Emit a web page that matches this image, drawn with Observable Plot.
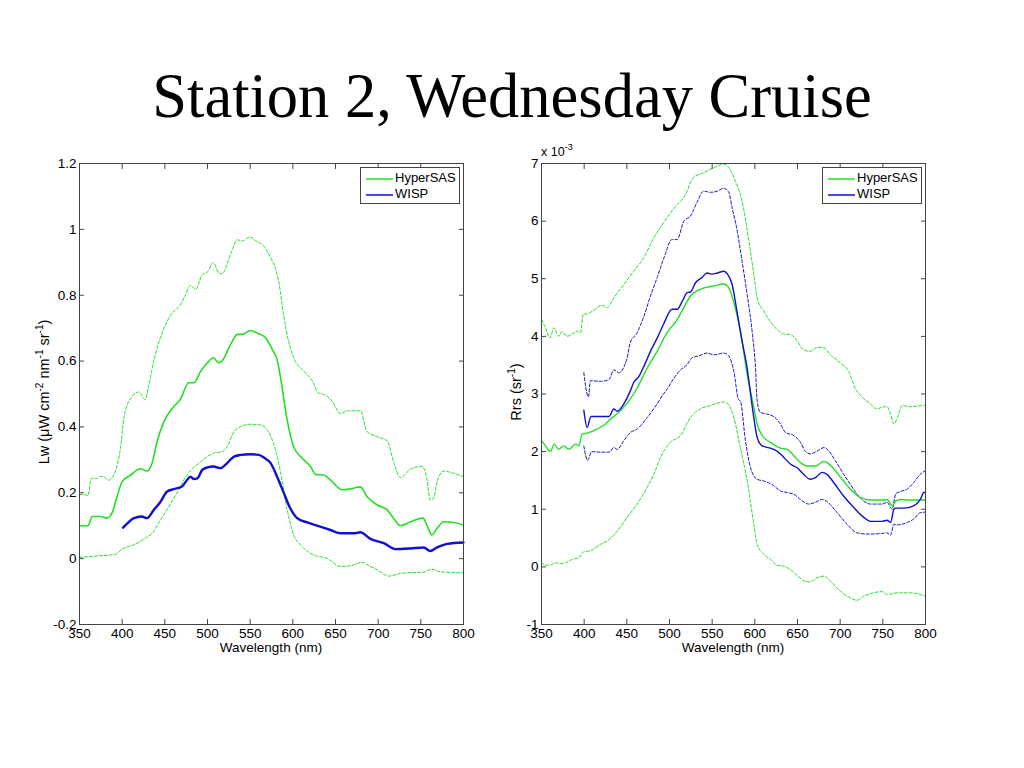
<!DOCTYPE html>
<html>
<head>
<meta charset="utf-8">
<script src="https://cdn.jsdelivr.net/npm/d3@7"></script>
<script src="https://cdn.jsdelivr.net/npm/@observablehq/plot@0.6"></script>
<style>
  html, body { margin: 0; padding: 0; background: #fff; }
  body { width: 1024px; height: 768px; position: relative; overflow: hidden; font-family: "Liberation Sans", Arial, sans-serif; }
  #title { position: absolute; left: 0; width: 1024px; top: 61px; text-align: center; font-family: "Liberation Serif", "Times New Roman", serif; font-size: 62.5px; line-height: 70px; color: #000; }
  .plot { position: absolute; top: 140px; }
  .xlabel { position: absolute; font-size: 13.5px; color: #000; text-align: center; width: 200px; }
  .ylabel { position: absolute; font-size: 14.5px; color: #000; white-space: nowrap; transform: rotate(-90deg); transform-origin: center center; text-align: center; }
  .ylabel sup { font-size: 10px; vertical-align: 6px; line-height: 0; }
  .legend { position: absolute; background: #fff; border: 1px solid #444; font-size: 13px; color: #000; padding: 0; }
  .legend .row { position: absolute; left: 0; height: 15px; line-height: 15px; white-space: nowrap; }
  .legend svg { vertical-align: middle; margin-left: 5px; margin-right: 2px; }
  #exp { position: absolute; left: 541px; top: 145px; font-size: 12.5px; color: #000; }
  #exp sup { font-size: 9px; vertical-align: 6px; line-height: 0; }
</style>
</head>
<body>
<div id="title">Station 2, Wednesday Cruise</div>
<div id="left" class="plot" style="left:0px"></div>
<div id="right" class="plot" style="left:480px"></div>
<div class="xlabel" style="left:171px; top:640px">Wavelength (nm)</div>
<div class="xlabel" style="left:633px; top:640px">Wavelength (nm)</div>
<div class="ylabel" style="left:-51px; top:384px; width:190px">Lw (μW cm<sup>-2</sup> nm<sup>-1</sup> sr<sup>-1</sup>)</div>
<div class="ylabel" style="left:466px; top:384px; width:100px">Rrs (sr<sup>-1</sup>)</div>
<div id="exp">x 10<sup>-3</sup></div>
<div class="legend" style="left:360px; top:167px; width:98px; height:35px">
  <div class="row" style="top:2px"><svg width="27" height="4"><line x1="0" x2="27" y1="2" y2="2" stroke="#22e022" stroke-width="1.5"/></svg>HyperSAS</div>
  <div class="row" style="top:18px"><svg width="27" height="4"><line x1="0" x2="27" y1="2" y2="2" stroke="#1010d0" stroke-width="1.5"/></svg>WISP</div>
</div>
<div class="legend" style="left:822px; top:167px; width:98px; height:35px">
  <div class="row" style="top:2px"><svg width="27" height="4"><line x1="0" x2="27" y1="2" y2="2" stroke="#22e022" stroke-width="1.5"/></svg>HyperSAS</div>
  <div class="row" style="top:18px"><svg width="27" height="4"><line x1="0" x2="27" y1="2" y2="2" stroke="#1010d0" stroke-width="1.5"/></svg>WISP</div>
</div>
<script>
// ---------- Tick values ----------
const xTicks = [350, 400, 450, 500, 550, 600, 650, 700, 750, 800];
const lwTicks = [-0.2, 0, 0.2, 0.4, 0.6, 0.8, 1, 1.2];
const rrsTicks = [-1, 0, 1, 2, 3, 4, 5, 6, 7];

// ---------- Left panel: Lw (wavelength, value) ----------
const lwHyperUpper = [[350,0.195],[355,0.195],[360,0.192],[364,0.244],[370,0.244],[375,0.25],[378.5,0.249],[384,0.238],[392,0.266],[398,0.335],[402,0.427],[410,0.487],[419.5,0.506],[427,0.483],[431,0.524],[437,0.6],[449,0.70],[457,0.74],[468,0.77],[474,0.80],[480,0.83],[486,0.818],[494,0.863],[500,0.871],[507,0.899],[513,0.868],[517,0.865],[527,0.924],[535,0.968],[541,0.965],[550,0.977],[556,0.966],[566,0.949],[574,0.914],[580,0.878],[584,0.833],[589,0.742],[595,0.66],[601,0.61],[613,0.569],[623,0.539],[630,0.503],[638,0.497],[646,0.478],[656,0.44],[663.7,0.449],[679,0.449],[687,0.386],[699,0.37],[710.5,0.358],[718,0.295],[726,0.246],[738,0.272],[751.5,0.28],[757,0.244],[761,0.178],[765,0.183],[769,0.234],[777,0.266],[788.7,0.259],[800,0.249]];
const lwHyperMean = [[350,0.1],[360,0.1],[365,0.128],[375,0.128],[382,0.123],[388,0.138],[394,0.188],[400,0.234],[410,0.254],[421.5,0.273],[429,0.266],[435,0.29],[441,0.356],[449,0.416],[460.5,0.462],[468,0.483],[478,0.534],[484,0.534],[492,0.569],[500,0.595],[507,0.61],[513,0.595],[517,0.6],[527,0.65],[535,0.681],[541,0.681],[550,0.693],[560,0.683],[568,0.671],[576,0.635],[582,0.6],[587.5,0.519],[591,0.457],[597,0.376],[601,0.34],[609,0.31],[620.7,0.28],[626.6,0.256],[636,0.254],[644,0.239],[658,0.209],[671.5,0.214],[679,0.218],[687,0.188],[699,0.163],[710.5,0.148],[718,0.123],[726,0.1],[738,0.112],[752.7,0.123],[757,0.102],[763,0.072],[769,0.092],[777,0.112],[788.7,0.11],[800,0.102]];
const lwHyperLower = [[350,0.004],[375,0.009],[392,0.013],[400,0.029],[413.7,0.042],[427,0.062],[435,0.077],[445,0.118],[460.5,0.183],[476,0.254],[492,0.295],[507,0.32],[517,0.325],[523,0.34],[531,0.386],[539,0.401],[548.4,0.408],[562,0.406],[570,0.391],[578,0.345],[585.5,0.264],[593,0.153],[601,0.072],[609,0.042],[624.6,0.011],[640,0.001],[656,-0.024],[671.5,-0.019],[681,-0.011],[691,-0.024],[699,-0.034],[712.5,-0.053],[726,-0.045],[742,-0.042],[751.5,-0.042],[763,-0.032],[773,-0.04],[800,-0.043]];
const lwWisp = [[401,0.094],[406,0.107],[413.7,0.123],[423,0.128],[429,0.123],[437,0.148],[445,0.173],[452.7,0.204],[460.5,0.211],[470,0.219],[476,0.239],[480,0.249],[484,0.242],[488,0.244],[494,0.27],[500,0.277],[507,0.28],[515,0.275],[523,0.29],[531,0.31],[539,0.315],[550,0.317],[560,0.315],[566,0.307],[574,0.29],[581.6,0.249],[589.5,0.199],[597,0.153],[605,0.123],[616.8,0.11],[632,0.097],[644,0.087],[656,0.077],[671.5,0.077],[679,0.08],[691,0.06],[706.6,0.047],[720,0.029],[738,0.031],[753.5,0.034],[761,0.023],[769,0.034],[781,0.045],[800,0.049]];

// ---------- Right panel: Rrs x 1e-3 (wavelength, value) ----------
const rrsHyperUpper = [[350,4.29],[354.7,4.15],[360,3.97],[364.5,4.15],[370,4.0],[374,4.08],[380,4.0],[388,4.06],[392.6,4.09],[395.7,4.06],[398.8,4.38],[403.5,4.39],[411,4.45],[421,4.54],[427,4.5],[434.8,4.67],[446.5,4.9],[458,5.13],[470,5.37],[481.6,5.71],[493,5.97],[509,6.29],[516.8,6.41],[528.5,6.76],[540,6.84],[552,6.93],[563.7,6.99],[569.5,6.93],[577,6.7],[585,6.35],[593,5.66],[598.8,5.08],[602.7,4.67],[610.5,4.44],[618,4.26],[626,4.12],[634,4.04],[642,4.03],[649.6,3.92],[657,3.77],[665,3.74],[673,3.81],[681,3.8],[688.7,3.68],[700,3.54],[710,3.39],[718,3.09],[724,2.97],[735.5,2.83],[743,2.74],[749,2.77],[755,2.78],[759,2.65],[763,2.48],[767,2.59],[772.6,2.8],[782,2.78],[800,2.81]];
const rrsHyperMean = [[350,2.19],[354.7,2.1],[360.5,2.0],[365,2.13],[370,2.04],[376,2.1],[382,2.04],[390,2.13],[393.7,2.1],[397.6,2.3],[403.5,2.32],[415,2.39],[425,2.48],[432.8,2.59],[442.6,2.71],[454,2.91],[462,3.1],[473.8,3.45],[485.5,3.74],[497,4.06],[509,4.29],[516.8,4.5],[524.6,4.7],[532,4.79],[540,4.84],[550,4.87],[563.7,4.91],[569.5,4.84],[577,4.5],[585,3.92],[591,3.34],[597,2.9],[598.8,2.77],[602.7,2.48],[608.6,2.28],[618.4,2.16],[630,2.06],[638,2.04],[645.7,1.93],[653.5,1.81],[661,1.75],[671,1.75],[681,1.83],[684.8,1.81],[692.6,1.7],[704,1.49],[712,1.35],[723.8,1.2],[735.5,1.16],[749,1.16],[755,1.17],[761,1.06],[765,1.14],[770.7,1.17],[782,1.16],[800,1.16]];
const rrsHyperLower = [[350,0.07],[354.7,0.03],[360.5,0.03],[366,0.07],[372,0.06],[378,0.07],[386,0.13],[393.7,0.16],[399.6,0.26],[407.4,0.28],[419,0.39],[427,0.45],[438.7,0.62],[450.4,0.86],[462,1.09],[473.8,1.38],[481.6,1.61],[489.5,1.9],[501,2.16],[513,2.28],[524.6,2.59],[536,2.74],[548,2.8],[563.7,2.86],[569.5,2.81],[575.4,2.59],[583,2.07],[591,1.49],[598.8,0.74],[602.7,0.39],[610.5,0.22],[618.4,0.13],[626,0.03],[634,0.01],[642,-0.05],[649.6,-0.15],[659,-0.25],[665,-0.26],[673,-0.19],[681,-0.16],[688.7,-0.25],[700,-0.42],[712,-0.54],[720,-0.58],[727.7,-0.51],[739,-0.45],[749,-0.43],[755,-0.48],[767,-0.45],[782,-0.45],[800,-0.51]];
const rrsWispUpper = [[399.6,3.37],[405,2.95],[407.4,3.23],[419,3.22],[429,3.25],[434.8,3.42],[440.6,3.37],[450.4,3.63],[454,3.89],[462,4.06],[470,4.35],[477.7,4.7],[485.5,5.02],[493,5.34],[503,5.68],[509,5.68],[516.8,6.0],[524.6,6.09],[532,6.32],[540,6.52],[548,6.5],[556,6.52],[563.7,6.57],[569.5,6.5],[573.4,6.23],[579,5.86],[585,5.31],[591,4.73],[597,4.06],[600.8,3.45],[602.7,2.88],[606.6,2.68],[614.5,2.65],[622,2.61],[630,2.48],[636,2.33],[645.7,2.28],[653.5,2.16],[659,2.01],[665,1.96],[673,2.01],[681,2.07],[686.7,2.01],[694.5,1.84],[704,1.61],[712,1.43],[720,1.26],[727.7,1.14],[735.5,1.09],[749,1.09],[755,1.12],[761,1.0],[765,1.26],[770.7,1.31],[778.5,1.35],[786,1.46],[794,1.61],[800,1.67]];
const rrsWispMean = [[399.6,2.72],[403.5,2.42],[408,2.61],[415,2.61],[429,2.61],[434.8,2.74],[438.7,2.7],[446.5,2.83],[454,3.05],[458,3.2],[464,3.3],[470,3.48],[477.7,3.74],[485.5,3.97],[493,4.21],[503,4.47],[509,4.47],[515,4.61],[520.7,4.76],[524.6,4.77],[530.5,4.93],[538,5.02],[544,5.1],[550,5.08],[556,5.1],[563.7,5.13],[568,5.08],[573.4,4.9],[579,4.44],[585,3.92],[591,3.45],[595,3.0],[598.8,2.59],[602.7,2.25],[608.6,2.1],[618.4,2.06],[626,2.01],[634,1.9],[642,1.78],[649.6,1.72],[657,1.61],[665,1.52],[671,1.55],[679,1.64],[684.8,1.6],[692.6,1.46],[704,1.23],[716,1.03],[727.7,0.86],[735.5,0.79],[749,0.79],[755,0.81],[759,0.77],[763,1.0],[765,1.02],[774.6,1.02],[786,1.06],[794,1.17],[798,1.29],[800,1.29]];
const rrsWispLower = [[399.6,2.1],[404,1.85],[409,2.0],[419,1.99],[429,1.99],[434.8,2.07],[438.7,2.04],[446.5,2.19],[454,2.33],[462,2.39],[473.8,2.59],[485.5,2.83],[493,3.0],[497,3.08],[505,3.27],[513,3.42],[520.7,3.51],[526.6,3.63],[534,3.66],[544,3.71],[552,3.68],[563.7,3.71],[569.5,3.66],[575.4,3.39],[581,2.9],[583,2.88],[589,2.19],[595,1.72],[602.7,1.52],[610.5,1.49],[620,1.43],[630,1.32],[638,1.29],[645.7,1.26],[653.5,1.17],[663,1.09],[671,1.12],[679,1.17],[684.8,1.13],[696.5,0.94],[708,0.74],[720,0.59],[731.6,0.57],[749,0.58],[755,0.59],[759,0.55],[763,0.74],[767,0.73],[778.5,0.77],[786,0.83],[794,0.94],[800,0.95]];

const GREEN = "#22e022";
const BLUE = "#1010d0";
const FRAME = "#444";

function panel({width, marginLeft, marginRight, yDomain, yTicks, yFormat, series}) {
  const marks = [];
  for (const s of series) {
    marks.push(Plot.line(s.data, {
      x: d => d[0], y: d => d[1],
      stroke: s.color, strokeWidth: s.width,
      strokeDasharray: s.dashed ? "3,2" : null,
      curve: "monotone-x"
    }));
  }
  marks.push(Plot.frame({stroke: FRAME, strokeWidth: 1}));
  // tick labels
  marks.push(Plot.axisX(xTicks, {anchor: "bottom", tickSize: 0, tickPadding: 4, fontSize: 13.5, fill: "#000", tickFormat: d => String(d)}));
  marks.push(Plot.axisY(yTicks, {anchor: "left", tickSize: 0, tickPadding: 3, fontSize: 13.5, fill: "#000", tickFormat: yFormat}));
  // inward tick marks on all four sides
  marks.push(Plot.axisX(xTicks, {anchor: "bottom", tickSize: -5, stroke: FRAME, tickFormat: () => ""}));
  marks.push(Plot.axisX(xTicks, {anchor: "top", tickSize: -5, stroke: FRAME, tickFormat: () => ""}));
  marks.push(Plot.axisY(yTicks, {anchor: "left", tickSize: -5, stroke: FRAME, tickFormat: () => ""}));
  marks.push(Plot.axisY(yTicks, {anchor: "right", tickSize: -5, stroke: FRAME, tickFormat: () => ""}));
  return Plot.plot({
    width, height: 520,
    marginLeft, marginRight, marginTop: 23, marginBottom: 36,
    style: {fontFamily: "'Liberation Sans', Arial, sans-serif", background: "transparent", overflow: "visible"},
    x: {domain: [350, 800], axis: null},
    y: {domain: yDomain, axis: null},
    marks
  });
}

const left = panel({
  width: 480, marginLeft: 79, marginRight: 17,
  yDomain: [-0.2, 1.2], yTicks: lwTicks,
  yFormat: d => (Math.round(d * 10) / 10).toString(),
  series: [
    {data: lwHyperUpper, color: GREEN, width: 1, dashed: true},
    {data: lwHyperLower, color: GREEN, width: 1, dashed: true},
    {data: lwHyperMean, color: GREEN, width: 1.6, dashed: false},
    {data: lwWisp, color: BLUE, width: 2.4, dashed: false}
  ]
});
document.getElementById("left").appendChild(left);

const right = panel({
  width: 470, marginLeft: 61, marginRight: 25,
  yDomain: [-1, 7], yTicks: rrsTicks,
  yFormat: d => String(d),
  series: [
    {data: rrsHyperUpper, color: GREEN, width: 1, dashed: true},
    {data: rrsHyperLower, color: GREEN, width: 1, dashed: true},
    {data: rrsWispUpper, color: BLUE, width: 1, dashed: true},
    {data: rrsWispLower, color: BLUE, width: 1, dashed: true},
    {data: rrsHyperMean, color: GREEN, width: 1.4, dashed: false},
    {data: rrsWispMean, color: BLUE, width: 1.4, dashed: false}
  ]
});
document.getElementById("right").appendChild(right);
</script>
</body>
</html>
